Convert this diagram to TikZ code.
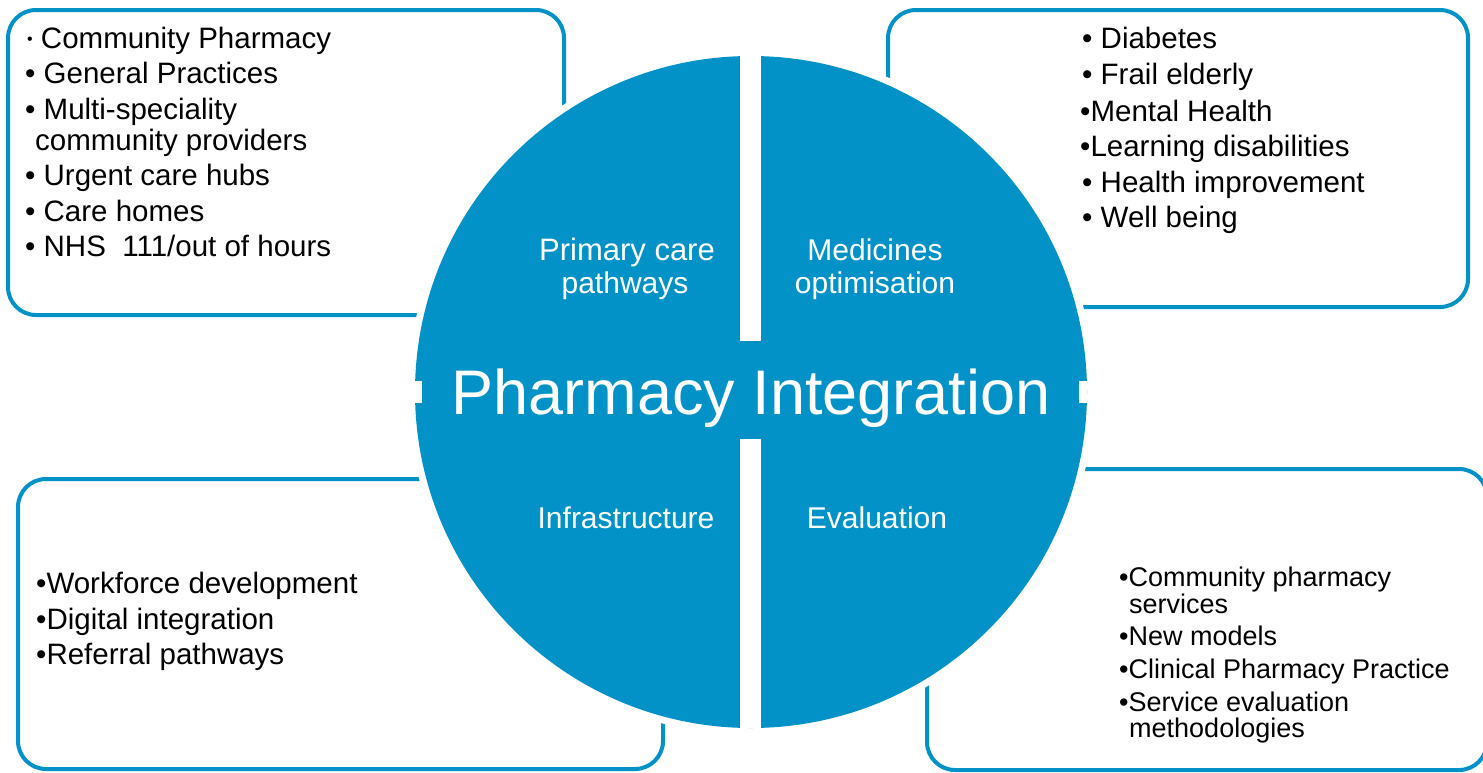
\documentclass[tikz,border=0pt]{standalone}
\usepackage{fontspec}
\setmainfont{Liberation Sans}
\usepackage{xcolor}

\definecolor{pharmblue}{RGB}{2,146,200}

\tikzset{
  listbox/.style={draw=pharmblue,line width=4pt,rounded corners=28pt,fill=white},
  item/.style={anchor=base west,inner sep=0pt,font=\fontsize{29.5}{35}\selectfont},
  smallitem/.style={item,font=\fontsize{27}{32}\selectfont},
  quadlabel/.style={anchor=base,inner sep=0pt,text=white,font=\fontsize{30}{34}\selectfont},
}

\begin{document}
\begin{tikzpicture}[x=1pt,y=-1pt]
        \useasboundingbox (0,0) rectangle (1483,772);

        % the four boxes
        \draw[listbox] (8,10) rectangle (564,315);
        \draw[listbox] (888,10) rectangle (1468,307);
        \draw[listbox] (18,479) rectangle (663,769);
        \draw[listbox] (927,469) rectangle (1487,770);

        % circle split in four
        \coordinate (hub) at (751,392);
        \fill[white] (hub) circle (343pt);
        \fill[pharmblue] (hub) circle (336pt);
        \begin{scope}
            \clip (hub) circle (336pt);
            \fill[white] (740,40) rectangle (761,750);
            \fill[white] (400,381) rectangle (1100,403);
        \end{scope}
        \fill[pharmblue] (422,341) rectangle (1079,439);

        \node[quadlabel,font=\fontsize{31}{34}\selectfont] (prim1) at (627,260) {Primary care};
        \node[quadlabel] (prim2) at (625,293) {pathways};
        \node[quadlabel] (med1) at (875,260) {Medicines};
        \node[quadlabel] (med2) at (875,293) {optimisation};
        \node[quadlabel] (infra) at (626,528) {Infrastructure};
        \node[quadlabel] (eval) at (877,528) {Evaluation};
        \node[quadlabel,font=\fontsize{63}{70}\selectfont] (title) at (751,414) {Pharmacy Integration};

        % top left
        \node[item] (tl1) at (27,48) {\raisebox{3.5pt}{\fontsize{16}{16}\selectfont •}\ Community Pharmacy};
        \node[item] (tl2) at (25,83) {• General Practices};
        \node[item] (tl3) at (25,119) {• Multi-speciality};
        \node[item] (tl4) at (35,150) {community providers};
        \node[item] (tl5) at (25,185) {• Urgent care hubs};
        \node[item] (tl6) at (25,221) {• Care homes};
        \node[item] (tl7) at (25,256) {• NHS\ \ 111/out of hours};

        % top right
        \node[item] (tr1) at (1082,48) {• Diabetes};
        \node[item] (tr2) at (1082,84) {• Frail elderly};
        \node[item] (tr3) at (1080,121) {•Mental Health};
        \node[item] (tr4) at (1080,156) {•Learning disabilities};
        \node[item] (tr5) at (1082,192) {• Health improvement};
        \node[item] (tr6) at (1082,227) {• Well being};

        % bottom left
        \node[item] (bl1) at (36,593) {•Workforce development};
        \node[item] (bl2) at (36,629) {•Digital integration};
        \node[item] (bl3) at (36,664) {•Referral pathways};

        % bottom right
        \node[smallitem] (br1) at (1119,586) {•Community pharmacy};
        \node[smallitem] (br2) at (1129,613) {services};
        \node[smallitem] (br3) at (1119,645) {•New models};
        \node[smallitem] (br4) at (1119,678) {•Clinical Pharmacy Practice};
        \node[smallitem] (br5) at (1119,711) {•Service evaluation};
        \node[smallitem] (br6) at (1129,737) {methodologies};
\end{tikzpicture}
\end{document}
